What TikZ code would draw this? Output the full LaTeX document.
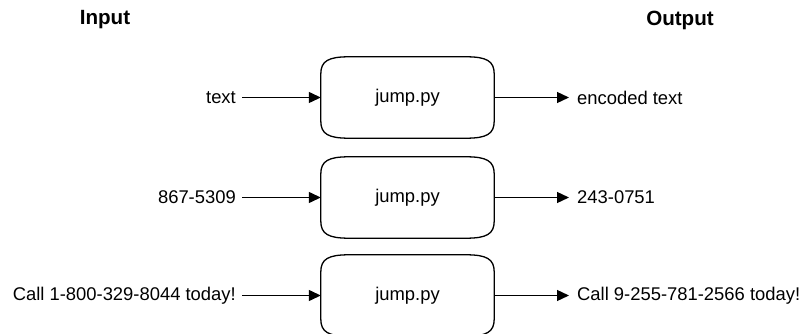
\documentclass[tikz,border=0pt]{standalone}
\usepackage{fontspec}
\setmainfont{Liberation Sans}
\usetikzlibrary{arrows.meta}
\begin{document}
\begin{tikzpicture}[x=1pt,y=1pt,
  normtext/.style={font=\fontsize{18.4}{22}\selectfont, inner sep=0pt},
  titletext/.style={font=\fontsize{20.6}{24}\selectfont\bfseries, inner sep=0pt},
  procbox/.style={minimum width=173pt, minimum height=81pt, inner sep=0pt, font=\fontsize{18.4}{22}\selectfont},
  boxline/.style={line width=1.3pt, black},
  flow/.style={line width=1.3pt, -{Triangle[length=12pt,width=11pt]}}
]
\useasboundingbox (0,0) rectangle (804,-334);
\node[titletext] (tin) at (105,-20) {Input};
\node[titletext] (tout) at (680,-20) {Output};

\node[procbox] (p1) at (407.5,-97.5) {jump.py};
\node[procbox] (p2) at (407.5,-197.5) {jump.py};
\node[procbox] (p3) at (407.5,-295.5) {jump.py};

\foreach \n in {p1,p2,p3}{
  \draw[boxline]
    ([yshift=-17pt]\n.north west) .. controls ([yshift=-4pt]\n.north west) and ([xshift=8pt]\n.north west) .. ([xshift=28pt]\n.north west)
    -- ([xshift=-28pt]\n.north east) .. controls ([xshift=-8pt]\n.north east) and ([yshift=-4pt]\n.north east) .. ([yshift=-17pt]\n.north east)
    -- ([yshift=17pt]\n.south east) .. controls ([yshift=4pt]\n.south east) and ([xshift=-8pt]\n.south east) .. ([xshift=-28pt]\n.south east)
    -- ([xshift=28pt]\n.south west) .. controls ([xshift=8pt]\n.south west) and ([yshift=4pt]\n.south west) .. ([yshift=17pt]\n.south west)
    -- cycle;
}

\node[normtext, anchor=east] (i1) at (236,-97.5) {text};
\node[normtext, anchor=east] (i2) at (236,-197.5) {867-5309};
\node[normtext, anchor=east] (i3) at (236,-295.5) {Call 1-800-329-8044 today!};

\node[normtext, anchor=west] (o1) at (577,-97.5) {encoded text};
\node[normtext, anchor=west] (o2) at (577,-197.5) {243-0751};
\node[normtext, anchor=west] (o3) at (577,-295.5) {Call 9-255-781-2566 today!};

\foreach \k in {1,2,3}{
  \draw[flow, shorten <=6pt] (i\k.east) -- (p\k.west);
  \draw[flow, shorten >=8pt] (p\k.east) -- (o\k.west);
}
\end{tikzpicture}
\end{document}
